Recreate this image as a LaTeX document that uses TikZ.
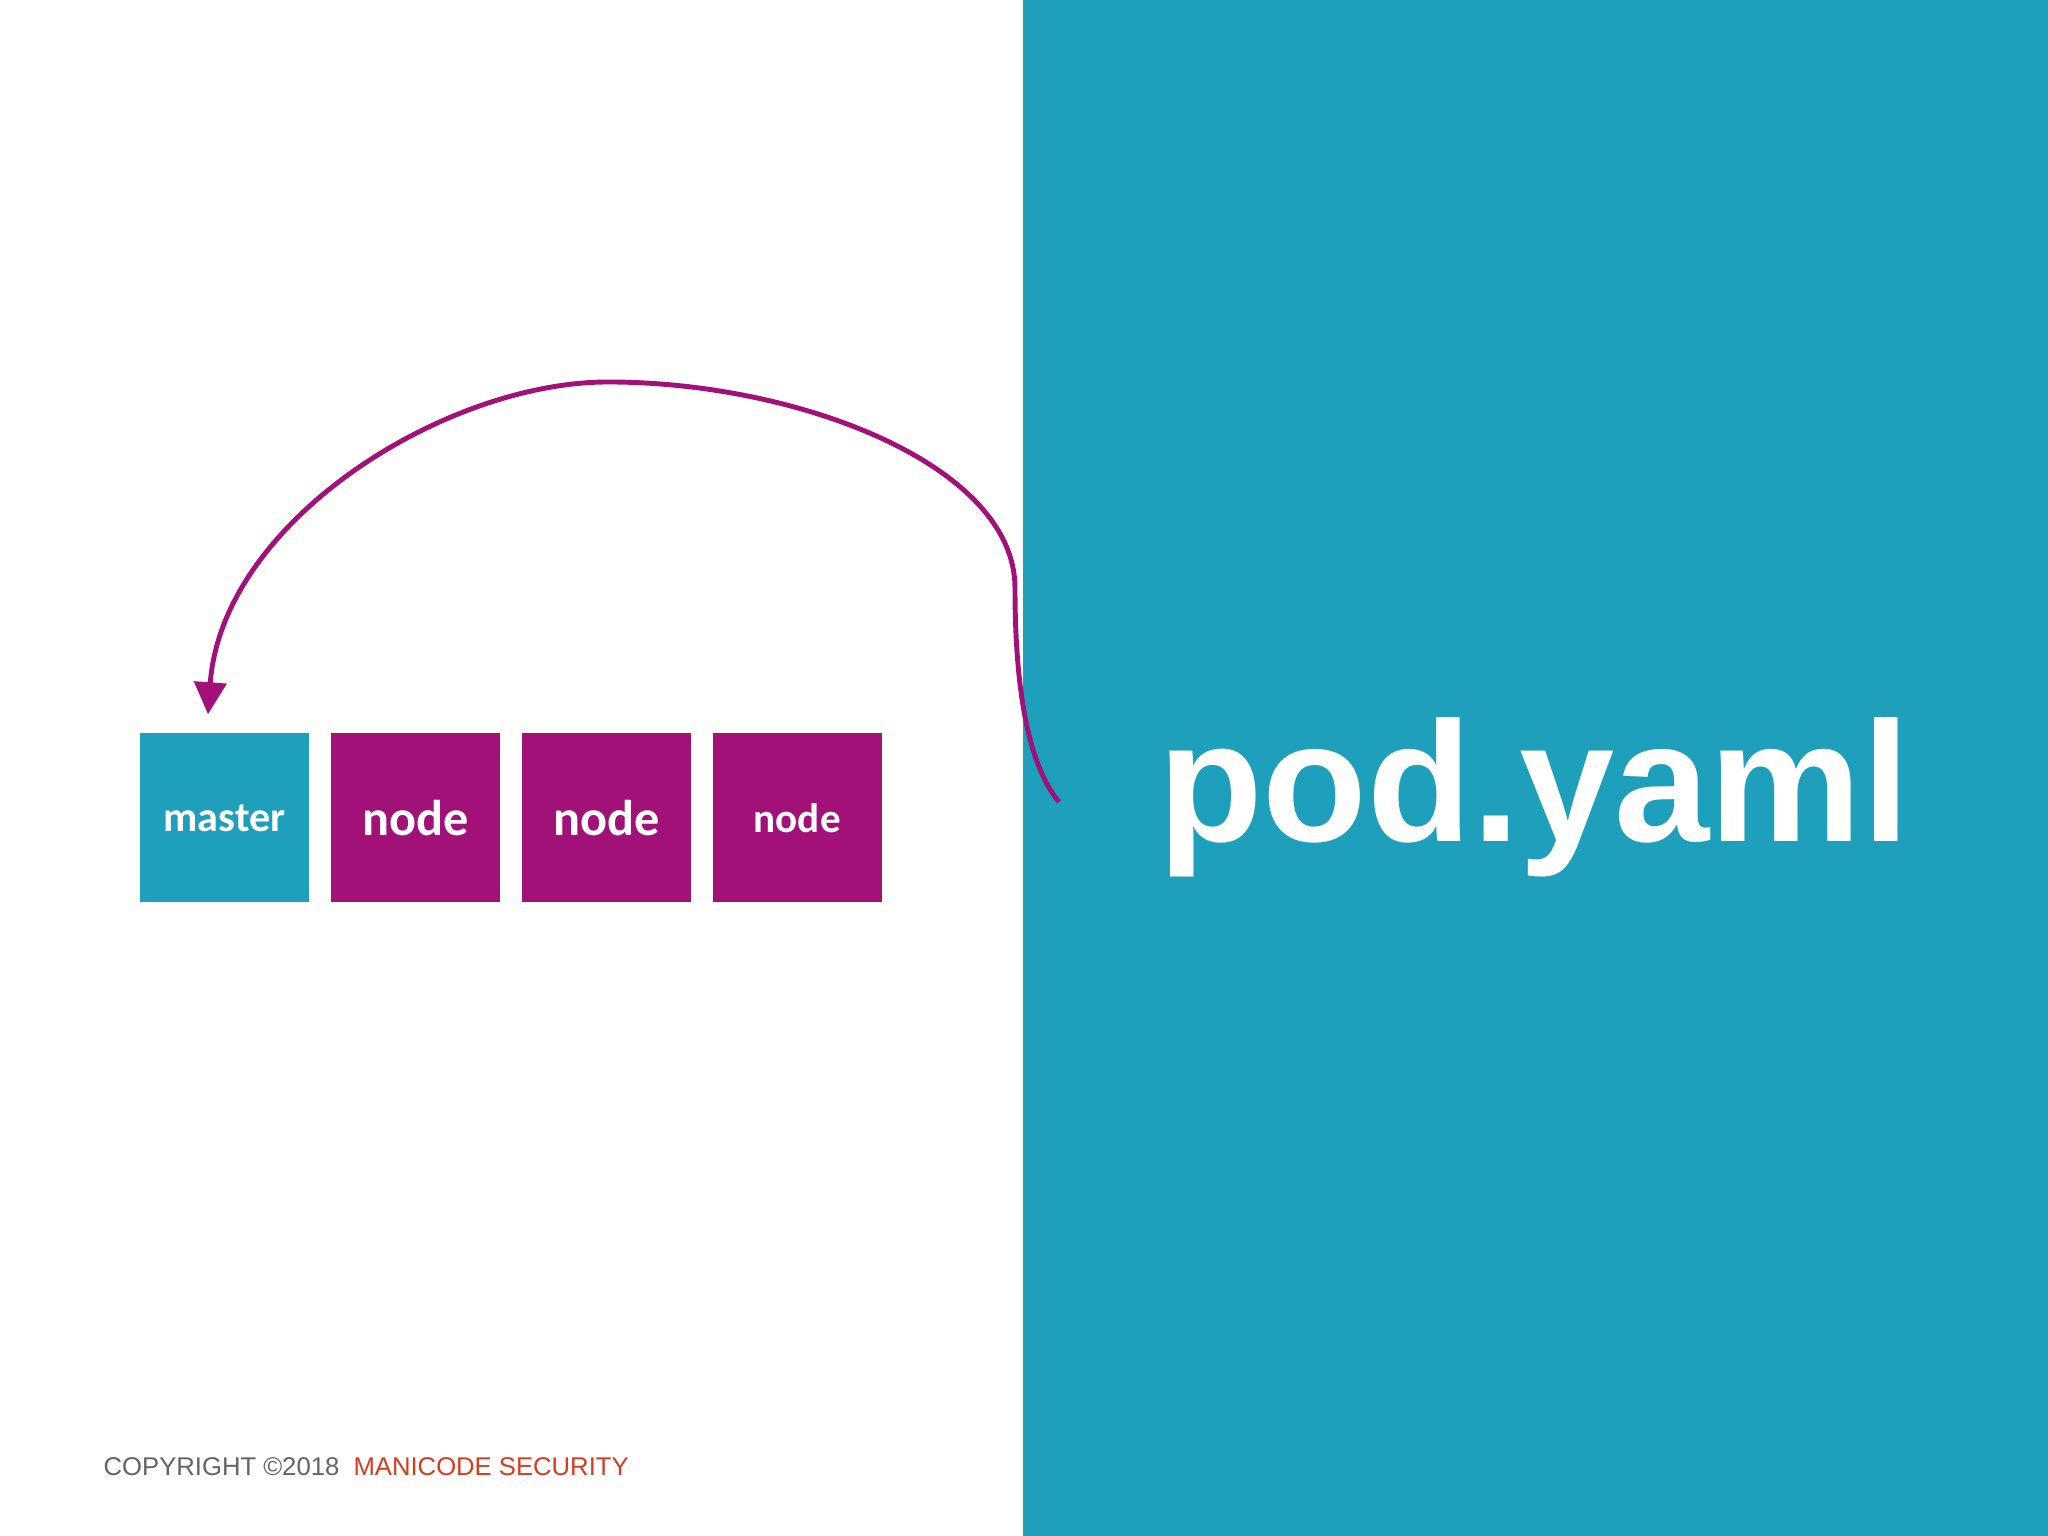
\documentclass[tikz,border=0pt]{standalone}
\usepackage{fontspec}
\setmainfont{Liberation Sans}
\newfontfamily\carlito{Carlito}
\usepackage{tikz}
\usetikzlibrary{positioning,arrows.meta}
\definecolor{teal1}{RGB}{30,159,187}
\definecolor{plum1}{RGB}{162,17,120}
\definecolor{copygray}{RGB}{100,100,100}
\definecolor{copyred}{RGB}{214,60,30}
\tikzset{
	tile/.style={
		rectangle,
		minimum size=1.69cm,
		inner sep=0pt,
		text=white,
		font=\carlito\bfseries
	}
}

\begin{document}
\begin{tikzpicture}
		\tikzstyle{master}=[tile, fill=teal1, font=\carlito\bfseries\fontsize{12}{14}\selectfont]
		\tikzstyle{worker}=[tile, fill=plum1, node distance=2.05mm]
		\tikzstyle{connect}=[line width=1.4pt, draw=plum1, -{Triangle[length=3.2mm,width=3.2mm]}]
		\useasboundingbox (0,0) rectangle (20.48,15.36);
		\fill[teal1] (10.23,0) rectangle (20.48,15.36);
		
		\node[master] (m) at (2.245,7.18) {master};
		\node[worker, font=\carlito\bfseries\fontsize{14.3}{16}\selectfont] (n1) [right=of m] {node};
		\node[worker, font=\carlito\bfseries\fontsize{14.3}{16}\selectfont] (n2) [right=of n1] {node};
		\node[worker, font=\carlito\bfseries\fontsize{11.7}{14}\selectfont] (n3) [right=of n2] {node};
		
		\node[text=white, font=\bfseries\fontsize{48.7}{50}\selectfont, anchor=base] (pod) at (15.34,6.94) {pod.yaml};
		\coordinate (tail) at (10.59,7.34);
		
		\draw[connect] (tail) .. controls (10.25,7.75) and (10.15,8.6) .. (10.15,9.48)
			.. controls (10.15,10.7) and (8.0,11.54) .. (6.08,11.54)
			.. controls (4.45,11.54) and (2.22,10.15) .. ([xshift=-1.65mm, yshift=1.85mm]m.north);
		
		\node[anchor=base west, inner sep=0pt, font=\fontsize{7.3}{9}\selectfont] (copy) at (1.03,0.60) {\textcolor{copygray}{COPYRIGHT ©2018}\ \ \textcolor{copyred}{MANICODE SECURITY}};
		\end{tikzpicture}
\end{document}
